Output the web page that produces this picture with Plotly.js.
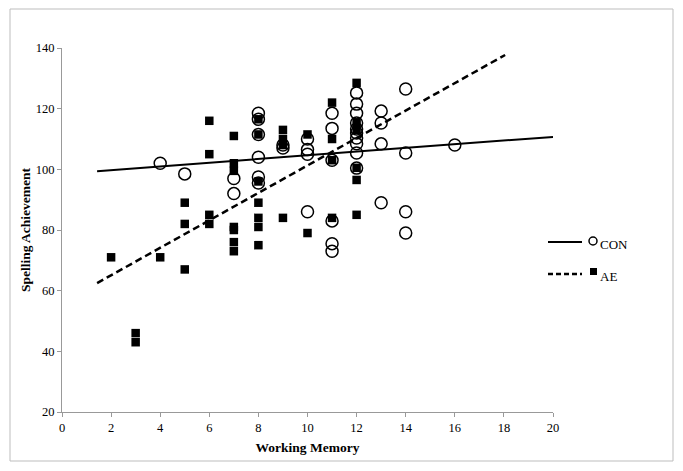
<!DOCTYPE html>
<html>
<head>
<meta charset="utf-8">
<script src="https://cdn.plot.ly/plotly-3.0.1.min.js"></script>
<style>html,body{margin:0;padding:0;background:#fff;}#chart{width:683px;height:471px;}</style>
</head>
<body>
<div id="chart"></div>
<script>
// CON group (open circles)
const conX = [4, 5, 7, 7, 8, 8, 8, 8, 8, 8, 9, 9, 10, 10, 10, 10,
  11, 11, 11, 11, 11, 11, 12, 12, 12, 12, 12, 12, 12, 12, 12, 12,
  13, 13, 13, 13, 14, 14, 14, 14, 16];
const conY = [102, 98.5, 97, 92, 118.5, 116.5, 111.5, 104, 97.5, 95.5, 108, 107, 110, 106.5, 105, 86,
  118.5, 113.5, 103, 83, 75.5, 73, 125.2, 121.5, 118.5, 115.3, 113.3, 112, 110.3, 108.4, 105.4, 100.4,
  119.2, 115.3, 108.4, 89, 126.5, 105.4, 86, 79, 108];
// AE group (filled squares)
const aeX = [2, 3, 3, 4, 5, 5, 5, 6, 6, 6, 6, 7, 7, 7, 7, 7, 7, 7,
  8, 8, 8, 8, 8, 8, 8, 9, 9, 9, 9, 10, 10, 11, 11, 11, 11, 12, 12, 12, 12, 12, 12];
const aeY = [71, 46, 43, 71, 89, 82, 67, 116, 105, 85, 82, 111, 102, 99.5, 81, 80, 76, 73,
  116.5, 111.5, 96, 89, 84, 81, 75, 113, 110, 108, 84, 111.5, 79, 122, 110, 103, 84, 128.5, 115.5, 113, 100.5, 96.5, 85];
// Linear trend lines (end points)
const conTrendX = [1.43, 20];
const conTrendY = [99.4, 110.7];
const aeTrendX = [1.43, 18.05];
const aeTrendY = [62.5, 137.7];
// Axis ticks
const xTicks = [0, 2, 4, 6, 8, 10, 12, 14, 16, 18, 20];
const yTicks = [20, 40, 60, 80, 100, 120, 140];
const legendNames = ['CON', 'AE'];

const serif = 'Liberation Serif, Times New Roman, serif';
const W = 683, H = 471, L = 62, R = 553, T = 48, B = 412;
const px = x => (x - L) / (R - L);
const py = y => (B - y) / (B - T);

const traces = [
  {x: conTrendX, y: conTrendY, mode: 'lines', line: {color: '#000', width: 2}, showlegend: false, hoverinfo: 'skip'},
  {x: aeTrendX, y: aeTrendY, mode: 'lines', line: {color: '#000', width: 2.5, dash: '7px,4px'}, showlegend: false, hoverinfo: 'skip'},
  {x: conX, y: conY, mode: 'markers', name: legendNames[0], showlegend: false,
   marker: {symbol: 'circle-open', size: 12, color: '#000', line: {width: 1.5, color: '#000'}}},
  {x: aeX, y: aeY, mode: 'markers', name: legendNames[1], showlegend: false,
   marker: {symbol: 'square', size: 8.5, color: '#000'}}
];

const legY = [242, 274];
const shapes = [
  {type: 'rect', xref: 'paper', yref: 'paper', x0: px(10), x1: px(673), y0: py(461), y1: py(9),
   line: {color: '#bdbdbd', width: 1}, fillcolor: 'rgba(0,0,0,0)', layer: 'below'},
  {type: 'line', xref: 'paper', yref: 'paper', x0: px(548), x1: px(582), y0: py(legY[0]), y1: py(legY[0]),
   line: {color: '#000', width: 2}},
  {type: 'circle', xref: 'paper', yref: 'paper', x0: px(589), x1: px(597), y0: py(legY[0] + 3), y1: py(legY[0] - 5),
   line: {color: '#000', width: 1.5}},
  {type: 'line', xref: 'paper', yref: 'paper', x0: px(548), x1: px(582), y0: py(legY[1]), y1: py(legY[1]),
   line: {color: '#000', width: 2.5, dash: '5px,3px'}},
  {type: 'rect', xref: 'paper', yref: 'paper', x0: px(590), x1: px(597), y0: py(legY[1] + 1), y1: py(legY[1] - 6),
   line: {color: '#000', width: 0}, fillcolor: '#000'}
];
const annotations = legendNames.map((n, i) => ({
  text: n, xref: 'paper', yref: 'paper', x: px(598), y: py(legY[i] + 2), xanchor: 'left', yanchor: 'middle',
  showarrow: false, font: {family: serif, size: 13, color: '#000'}
}));

const layout = {
  width: W, height: H,
  margin: {l: L, r: W - R, t: T, b: H - B},
  paper_bgcolor: '#fff', plot_bgcolor: '#fff',
  showlegend: false,
  font: {family: serif, size: 12, color: '#000'},
  xaxis: {
    range: [0, 20], tickvals: xTicks, ticktext: xTicks.map(String),
    showgrid: false, zeroline: false, showline: true, linecolor: '#999', linewidth: 1,
    ticks: 'outside', ticklen: 4, tickcolor: '#999',
    tickfont: {family: serif, size: 12.5, color: '#000'},
    title: {text: 'Working Memory', font: {family: serif, size: 13.5, color: '#000', weight: 'bold'}, standoff: 8}
  },
  yaxis: {
    range: [20, 140], tickvals: yTicks, ticktext: yTicks.map(String),
    showgrid: false, zeroline: false, showline: true, linecolor: '#999', linewidth: 1,
    ticks: 'outside', ticklen: 4, tickcolor: '#999',
    tickfont: {family: serif, size: 12.5, color: '#000'},
    title: {text: 'Spelling Achievement', font: {family: serif, size: 13.5, color: '#000', weight: 'bold'}, standoff: 2}
  },
  shapes: shapes,
  annotations: annotations
};

Plotly.newPlot('chart', traces, layout, {staticPlot: true, displayModeBar: false});
</script>
</body>
</html>
